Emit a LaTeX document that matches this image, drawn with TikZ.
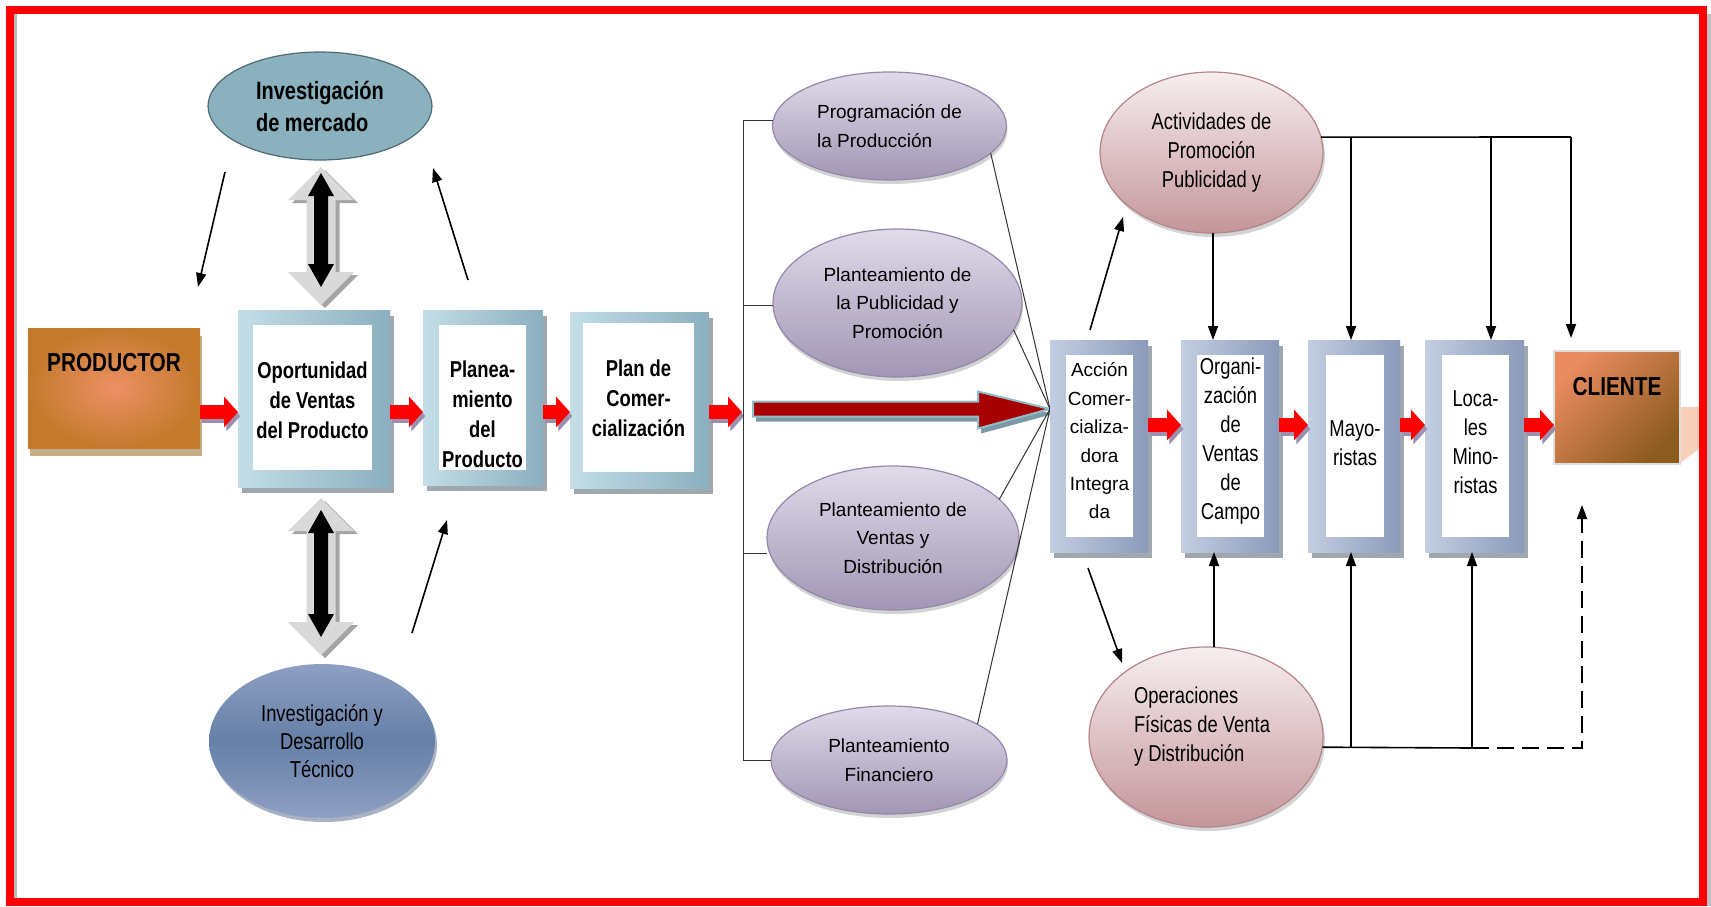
\documentclass[tikz,border=0pt]{standalone}
\usepackage{fontspec}
\setmainfont[FakeStretch=0.8]{Liberation Sans}
\newfontfamily\widefont{Liberation Sans}
\usetikzlibrary{arrows.meta,shadows,calc,shapes.geometric}

\definecolor{tealL}{HTML}{C3DEE6}
\definecolor{tealD}{HTML}{8BAFBF}
\definecolor{bluL}{HTML}{C4CEE2}
\definecolor{bluD}{HTML}{8A9AB9}
\definecolor{boxsh}{HTML}{7E8B93}
\definecolor{arrsh}{HTML}{9C8FB0}
\definecolor{purT}{HTML}{E0DAE9}
\definecolor{purB}{HTML}{A196B4}
\definecolor{purE}{HTML}{9488AA}
\definecolor{pinT}{HTML}{F7EEF0}
\definecolor{pinB}{HTML}{C4959A}
\definecolor{pinE}{HTML}{B3848A}
\definecolor{imF}{HTML}{8BB0BE}
\definecolor{imE}{HTML}{4F6A75}
\definecolor{rdL}{HTML}{8E9FC2}
\definecolor{rdD}{HTML}{6680A7}
\definecolor{prodI}{HTML}{EE9066}
\definecolor{prodO}{HTML}{C37A2B}
\definecolor{prodS}{HTML}{8A5B14}
\definecolor{cliL}{HTML}{E98B5F}
\definecolor{cliD}{HTML}{8C5B1F}
\definecolor{peach}{HTML}{F8CFB8}
\definecolor{bigR}{HTML}{A80000}
\definecolor{bigE}{HTML}{8FBDC9}
\definecolor{bigS}{HTML}{7C9AA6}
\definecolor{dgrayA}{HTML}{D9D9D9}
\definecolor{dgrayS}{HTML}{A4A4A4}

% double-headed block arrow: centre, half length, head length, head half width, shaft half width, style
\newcommand\dblarr[6]{\path[#6,shift={(#1)}] (0,-#2) -- (#4,{#3-#2}) -- (#5,{#3-#2}) -- (#5,{#2-#3}) -- (#4,{#2-#3}) -- (0,#2) -- (-#4,{#2-#3}) -- (-#5,{#2-#3}) -- (-#5,{#3-#2}) -- (-#4,{#3-#2}) -- cycle;}

\begin{document}
\begin{tikzpicture}[x=0.5pt,y=-0.5pt,
  every node/.style={inner sep=0pt, outer sep=0pt},
  boxshadow/.style={drop shadow={shadow xshift=2pt, shadow yshift=-3pt, fill=boxsh, opacity=0.75}},
  tealframe/.style={rectangle, left color=tealL, right color=tealD, boxshadow},
  bluframe/.style={rectangle, left color=bluL, right color=bluD, boxshadow},
  whitebox/.style={rectangle, fill=white},
  purp/.style={ellipse, top color=purT, bottom color=purB, draw=purE, line width=0.6pt,
    drop shadow={shadow xshift=0.5pt, shadow yshift=-2pt, fill=gray, opacity=0.35}},
  pinkell/.style={ellipse, top color=pinT, bottom color=pinB, draw=pinE, line width=0.6pt,
    drop shadow={shadow xshift=1pt, shadow yshift=-2pt, fill=gray, opacity=0.35}},
  txt/.style={font=\fontsize{11.5}{14.5}\selectfont, align=center, text=black},
  txtb/.style={font=\bfseries\fontsize{11.5}{15}\selectfont, align=center, text=black},
  wtxt/.style={font=\widefont\fontsize{9.5}{14.2}\selectfont, text=black},
  bigb/.style={font=\bfseries\fontsize{13}{15}\selectfont, text=black},
  con/.style={draw=black, line width=0.8pt, -{Triangle[length=7pt,width=5pt]}},
  plain/.style={draw=black, line width=0.8pt},
  thinl/.style={draw=black!80, line width=0.5pt},
  redsh/.style={draw=arrsh, line width=7pt, -{Triangle[length=7pt,width=15pt]},
    transform canvas={shift={(1.2pt,-2pt)}}},
  redar/.style={draw=red, line width=7pt, -{Triangle[length=7pt,width=15pt]}}
]
\useasboundingbox (0,0) rectangle (1711,906);

% ---------- left column: producer and first planning blocks ----------
\node[rectangle, inner color=prodI, outer color=prodO, minimum width=86pt, minimum height=60pt,
  drop shadow={shadow xshift=1pt, shadow yshift=-4pt, fill=prodS}] (prod) at (114,388) {};
\node[bigb, anchor=north] (prodt) at (114,353) {PRODUCTOR};

\node[tealframe, minimum width=76pt, minimum height=88.5pt] (opp) at (314,398.5) {};
\node[whitebox, minimum width=59.5pt, minimum height=72.5pt] (oppw) at (312.5,397.5) {};
\node[txtb] (oppt) at (312.5,400) {Oportunidad\\de Ventas\\del Producto};

\node[tealframe, minimum width=60pt, minimum height=87.5pt] (pla) at (483,397.5) {};
\node[whitebox, minimum width=43.5pt, minimum height=72.5pt] (plaw) at (482.5,397.5) {};
\node[txtb] (plat) at (482.5,414) {Planea-\\miento\\del\\Producto};

\node[tealframe, minimum width=69.5pt, minimum height=88pt] (com) at (639.5,400) {};
\node[whitebox, minimum width=55.5pt, minimum height=74.5pt] (comw) at (638.5,397.5) {};
\node[txtb] (comt) at (638.5,398) {Plan de\\Comer-\\cialización};

% research ellipses
\node[ellipse, fill=imF, draw=imE, line width=0.6pt, minimum width=112pt, minimum height=54pt,
  font=\bfseries\fontsize{12.5}{16}\selectfont, align=left] (im) at (320,106) {Investigación\\de mercado};
\node[ellipse, top color=rdL, bottom color=rdL, middle color=rdD, minimum width=113pt, minimum height=77pt,
  drop shadow={shadow xshift=1pt, shadow yshift=-2pt, fill=rdD!80!black, opacity=0.5},
  font=\fontsize{11.5}{14}\selectfont, align=center] (rd) at (322,741) {Investigación y\\Desarrollo\\Técnico};

% double block arrows between research and opportunity block
\coordinate (dau) at (321,236);
\coordinate (daus) at (325,239);
\coordinate (dauk) at (321,230);
\coordinate (dad) at (321,576.5);
\coordinate (dads) at (325,579.5);
\coordinate (dadk) at (321,573.5);
\dblarr{daus}{69}{33}{33}{14.5}{fill=dgrayS}
\dblarr{dau}{69}{33}{33}{14.5}{fill=dgrayA}
\dblarr{dauk}{57}{23}{13}{7}{fill=black}
\dblarr{dads}{78.5}{33}{33}{14.5}{fill=dgrayS}
\dblarr{dad}{78.5}{33}{33}{14.5}{fill=dgrayA}
\dblarr{dadk}{63.5}{23}{13}{7}{fill=black}

% thin feedback arrows
\coordinate (l1a) at (225,172); \coordinate (l1b) at (198,287);
\coordinate (l2a) at (468,280); \coordinate (l2b) at (433,168);
\coordinate (l3a) at (412,633); \coordinate (l3b) at (447,520);
\draw[con] (l1a) -- (l1b);
\draw[con] (l2a) -- (l2b);
\draw[con] (l3a) -- (l3b);

% red flow arrows, left row
\coordinate (rowL) at (0,412);
\coordinate (comout) at (742,412);
\foreach \a/\b in {prod/opp, opp/pla, pla/com}{
  \draw[redsh] (\a.east |- rowL) -- (\b.west |- rowL);
  \draw[redar] (\a.east |- rowL) -- (\b.west |- rowL);
}
\draw[redsh] (com.east |- rowL) -- (comout);
\draw[redar] (com.east |- rowL) -- (comout);

% ---------- planning ellipses ----------
\node[purp, minimum width=117pt, minimum height=54pt, wtxt, align=left] (p1) at (889.5,126) {Programación de\\la Producción};
\node[purp, minimum width=124.5pt, minimum height=74pt, wtxt, align=center] (p2) at (897.5,303) {Planteamiento de\\la Publicidad y\\Promoción};
\node[purp, minimum width=126pt, minimum height=72pt, wtxt, align=center] (p3) at (893,538) {Planteamiento de\\Ventas y\\Distribución};
\node[purp, minimum width=118pt, minimum height=54pt, wtxt, align=center] (p4) at (889,760) {Planteamiento\\Financiero};

\coordinate (b1) at (743,120);
\coordinate (b2) at (743,305);
\coordinate (b3) at (743,553);
\coordinate (b4) at (743,760);
\draw[thinl] (b1) -- (b4);
\draw[thinl] (b1) -- (b1 -| p1.west);
\draw[thinl] (b2) -- (b2 -| p2.west);
\draw[thinl] (b3) -- (b3 -| p3.west);
\draw[thinl] (b4) -- (b4 -| p4.west);

% main dark red arrow
\coordinate (C) at (1050,409);
\begin{scope}[transform canvas={shift={(1.5pt,-2.5pt)}}]
\fill[bigS] (753,401.5) -- (978,401.5) -- (978,391.5) -- (C) -- (978,428.5) -- (978,416.5) -- (753,416.5) -- cycle;
\end{scope}
\filldraw[fill=bigR, draw=bigE, line width=1pt] (753,401.5) -- (978,401.5) -- (978,391.5) -- (C) -- (978,428.5) -- (978,416.5) -- (753,416.5) -- cycle;

\draw[thinl] (p1.-15) -- (C);
\draw[thinl] (p2.-13) -- (C);
\draw[thinl] (p3.20) -- (C);
\draw[thinl] (p4.22) -- (C);

% ---------- right blocks ----------
\node[bluframe, minimum width=49pt, minimum height=106pt] (acc) at (1099,446) {};
\node[whitebox, minimum width=33.5pt, minimum height=91pt] (accw) at (1099.5,446) {};
\node[wtxt, align=center] (acct) at (1099.5,441) {Acción\\Comer-\\cializa-\\dora\\Integra\\da};

\node[bluframe, minimum width=49pt, minimum height=106pt] (org) at (1230,446) {};
\node[whitebox, minimum width=33.5pt, minimum height=91pt] (orgw) at (1230.5,446) {};
\node[txt] (orgt) at (1230.5,441) {Organi-\\zación\\de\\Ventas\\de\\Campo};

\node[bluframe, minimum width=46pt, minimum height=106pt] (may) at (1354,446) {};
\node[whitebox, minimum width=29pt, minimum height=91pt] (mayw) at (1355,446) {};
\node[txt] (mayt) at (1355,443) {Mayo-\\ristas};

\node[bluframe, minimum width=49.5pt, minimum height=106pt] (loc) at (1474.5,446) {};
\node[whitebox, minimum width=33.5pt, minimum height=91pt] (locw) at (1475.5,446) {};
\node[txt] (loct) at (1475.5,442) {Loca-\\les\\Mino-\\ristas};

% client block with its pale backdrop
\fill[peach] (1676,407) -- (1699,407) -- (1699,449) -- (1676,466) -- cycle;
\node[rectangle, top color=cliL, bottom color=cliD, shading angle=45, draw=gray!25, line width=1pt,
  minimum width=63pt, minimum height=56.5pt] (cli) at (1617,407.5) {};
\node[bigb, anchor=north] (clit) at (1617,377) {CLIENTE};

\coordinate (rowR) at (0,425);
\foreach \a/\b in {acc/org, org/may, may/loc, loc/cli}{
  \draw[redsh] (\a.east |- rowR) -- (\b.west |- rowR);
  \draw[redar] (\a.east |- rowR) -- (\b.west |- rowR);
}

% promotion and physical operations
\node[pinkell, minimum width=111.5pt, minimum height=80.5pt, txt] (actv) at (1211.5,152.5) {Actividades de\\Promoción\\Publicidad y};
\node[pinkell, minimum width=117pt, minimum height=90pt] (ops) at (1206,737) {};
\node[txt, align=left] (opst) at (1202,727) {Operaciones\\Físicas de Venta\\y Distribución};

\coordinate (aU1) at (1090,330); \coordinate (aU2) at (1123,217);
\coordinate (aD1) at (1088,568); \coordinate (aD2) at (1122,663);
\draw[con] (aU1) -- (aU2);
\draw[con] (aD1) -- (aD2);

\coordinate (vA) at (1213,0);
\draw[con] (vA |- actv.south) -- (vA |- org.north);
\coordinate (vB) at (1214,0);
\draw[con] (vB |- ops.north) -- (vB |- org.south);

\coordinate (hM) at (1351,137);
\coordinate (hL) at (1491,137);
\coordinate (hC) at (1571,137);
\coordinate (cliIn) at (1571,338);
\draw[plain] (actv.8) -- (hC);
\draw[con] (hM) -- (hM |- may.north);
\draw[con] (hL) -- (hL |- loc.north);
\draw[con] (hC) -- (cliIn);

\coordinate (gM) at (1351,748);
\coordinate (gL) at (1472,748);
\coordinate (gC) at (1582,748);
\coordinate (cliOut) at (1582,505);
\draw[plain] (ops.-5) -- (gL);
\draw[con] (gM) -- (gM |- may.south);
\draw[con] (gL) -- (gL |- loc.south);
\draw[con, dash pattern=on 8.5pt off 4pt] (gL) -- (gC) -- (cliOut);

% ---------- outer frame ----------
\fill[gray!55] (14,14) rectangle (17,898);
\fill[gray!50] (1706,14) rectangle (1711,906);
\draw[red, line width=4pt] (10,9.5) rectangle (1702.5,902);
\end{tikzpicture}
\end{document}
